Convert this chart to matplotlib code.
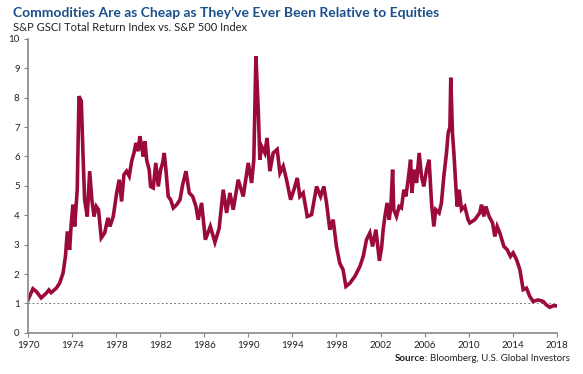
import matplotlib
matplotlib.use('Agg')
import matplotlib.pyplot as plt

# values (year, ratio)
years = [
    1970.0, 1970.45, 1970.75, 1971.2, 1971.66, 1971.9, 1972.1, 1972.57,
    1972.87, 1973.18, 1973.4, 1973.57, 1973.78, 1973.93, 1974.08, 1974.24,
    1974.47, 1974.63, 1974.84, 1975.0, 1975.14, 1975.38, 1975.6, 1975.8,
    1975.99, 1976.2, 1976.4, 1976.65, 1976.96, 1977.26, 1977.44, 1977.74,
    1978.05, 1978.28, 1978.5, 1978.71, 1978.95, 1979.19, 1979.41, 1979.62,
    1979.8, 1980.0, 1980.16, 1980.32, 1980.46, 1980.62, 1980.77, 1981.0,
    1981.13, 1981.37, 1981.6, 1981.83, 1982.04, 1982.22, 1982.37, 1982.52,
    1982.73, 1982.95, 1983.19, 1983.5, 1983.8, 1984.04, 1984.34, 1984.64,
    1984.95, 1985.25, 1985.45, 1985.76, 1986.1, 1986.55, 1986.97, 1987.35,
    1987.72, 1988.03, 1988.33, 1988.63, 1989.08, 1989.54, 1989.99, 1990.3,
    1990.5, 1990.69, 1990.9, 1991.05, 1991.2, 1991.5, 1991.7, 1991.96,
    1992.26, 1992.62, 1992.87, 1993.17, 1993.47, 1993.84, 1994.14, 1994.44,
    1994.68, 1994.98, 1995.35, 1995.74, 1996.2, 1996.56, 1996.86, 1997.1,
    1997.4, 1997.7, 1998.0, 1998.3, 1998.6, 1998.86, 1999.22, 1999.67,
    2000.13, 2000.43, 2000.73, 2001.03, 2001.28, 2001.58, 2001.9, 2002.1,
    2002.24, 2002.4, 2002.6, 2002.79, 2002.94, 2003.1, 2003.2, 2003.45,
    2003.69, 2003.9, 2004.12, 2004.3, 2004.51, 2004.73, 2004.85, 2005.05,
    2005.27, 2005.51, 2005.72, 2005.93, 2006.18, 2006.41, 2006.63, 2006.84,
    2007.02, 2007.32, 2007.53, 2007.75, 2007.99, 2008.14, 2008.3, 2008.38,
    2008.53, 2008.66, 2008.84, 2008.96, 2009.14, 2009.35, 2009.65, 2009.95,
    2010.1, 2010.56, 2011.0, 2011.17, 2011.38, 2011.56, 2011.86, 2012.17,
    2012.38, 2012.59, 2012.83, 2013.2, 2013.5, 2013.8, 2014.04, 2014.35,
    2014.65, 2014.95, 2015.25, 2015.55, 2015.85, 2016.3, 2016.76, 2017.06,
    2017.36, 2017.66, 2017.96,
]
ratio = [
    1.12, 1.5, 1.41, 1.19, 1.35, 1.46, 1.37, 1.52,
    1.69, 2.03, 2.6, 3.45, 2.83, 3.74, 4.36, 3.62,
    4.87, 8.05, 7.88, 6.0, 4.53, 3.96, 5.5, 4.53,
    3.96, 4.3, 4.19, 3.23, 3.4, 3.91, 3.62, 3.96,
    4.76, 5.21, 4.47, 5.38, 5.5, 5.33, 5.84, 6.12,
    6.46, 6.18, 6.69, 6.35, 6.0, 6.52, 5.89, 5.55,
    4.98, 4.93, 5.78, 4.98, 5.55, 5.78, 6.12, 5.55,
    4.64, 4.53, 4.25, 4.36, 4.53, 5.04, 5.5, 4.76,
    4.64, 4.3, 3.85, 4.42, 3.17, 3.62, 3.08, 3.55,
    4.87, 4.08, 4.76, 4.19, 5.21, 4.64, 5.78, 5.1,
    5.89, 9.41, 7.6, 5.89, 6.35, 6.12, 6.63, 5.5,
    6.12, 6.24, 5.44, 5.67, 5.21, 4.53, 4.87, 5.27,
    4.64, 4.76, 3.96, 4.02, 4.98, 4.64, 4.98, 4.42,
    3.51, 3.85, 2.94, 2.37, 2.15, 1.58, 1.69, 1.92,
    2.26, 2.6, 3.17, 3.4, 2.94, 3.51, 2.45, 2.9,
    3.51, 3.96, 4.42, 3.85, 4.3, 5.55, 4.19, 3.96,
    4.3, 4.25, 4.87, 4.64, 5.21, 5.89, 4.76, 5.55,
    5.1, 6.12, 5.33, 4.98, 5.55, 5.89, 4.42, 3.62,
    4.19, 4.08, 4.42, 5.33, 6.12, 6.8, 7.0, 8.68,
    6.8, 6.12, 4.98, 4.3, 4.87, 4.19, 4.3, 3.85,
    3.74, 3.85, 4.08, 4.36, 3.96, 4.3, 3.96, 3.74,
    3.28, 3.62, 3.4, 2.94, 2.83, 2.6, 2.72, 2.49,
    2.15, 1.47, 1.52, 1.24, 1.07, 1.12, 1.07, 0.95,
    0.87, 0.92, 0.92,
]
x_ticks = list(range(1970, 2019, 4))
y_ticks = list(range(0, 11))

title = 'Commodities Are as Cheap as They\u2019ve Ever Been Relative to Equities'
subtitle = 'S&P GSCI Total Return Index vs. S&P 500 Index'

plt.rcParams['font.family'] = ['Lato', 'DejaVu Sans']

fig = plt.figure(figsize=(5.83, 3.74), dpi=100)
ax = fig.add_axes([0.048, 0.11, 0.907, 0.786])

ax.axhline(1, color='#555555', linestyle=(0, (2, 3)), linewidth=0.6)
ax.plot(years, ratio, '-', color='#9c0a3b', linewidth=2.6,
        solid_joinstyle='miter')

ax.set_xlim(1970, 2018)
ax.set_ylim(0, 10)
ax.set_xticks(x_ticks)
ax.set_yticks(y_ticks)
ax.tick_params(axis='both', labelsize=7, colors='#222222', length=3,
               width=0.8, pad=3)
ax.tick_params(axis='both', color='#888888')
for side in ['top', 'right']:
    ax.spines[side].set_visible(False)
for side in ['left', 'bottom']:
    ax.spines[side].set_color('#888888')
    ax.spines[side].set_linewidth(1.2)

fig.text(0.022, 0.955, title, fontsize=10, fontweight='bold',
         color='#1a4f8b', va='baseline')
fig.text(0.022, 0.918, subtitle, fontsize=8, color='#222222',
         va='baseline')
src_bold = fig.text(0.978, 0.035, 'Source', fontsize=7, fontweight='bold',
                    color='#222222', ha='right', va='baseline')
src = fig.text(0.978, 0.035, ': Bloomberg, U.S. Global Investors',
               fontsize=7, color='#222222', ha='right', va='baseline')
fig.canvas.draw()
bb = src.get_window_extent()
src_bold.set_position((bb.x0 / fig.bbox.width, 0.035))

fig.savefig('out.png', dpi=100)
